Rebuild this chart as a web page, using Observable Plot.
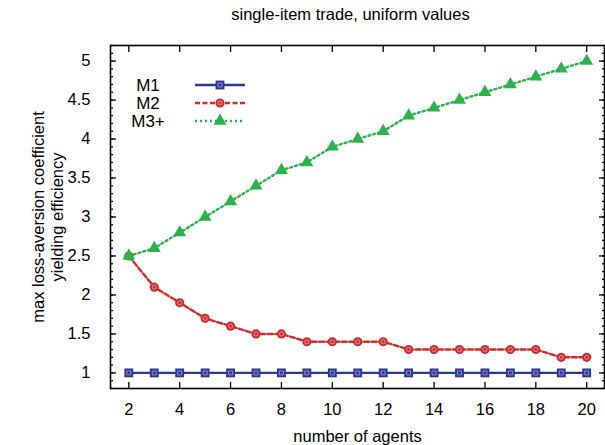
<!DOCTYPE html>
<html>
<head>
<meta charset="utf-8">
<script src="https://cdn.jsdelivr.net/npm/d3@7"></script>
<script src="https://cdn.jsdelivr.net/npm/@observablehq/plot@0.6"></script>
<style>
  html, body { margin: 0; padding: 0; background: #fff; }
  #chart svg { display: block; }
</style>
</head>
<body>
<div id="chart"></div>
<script>
const titleText = "single-item trade, uniform values";
const xLabel = "number of agents";
const yLabel = "max loss-aversion coefficient\nyielding efficiency";

const agents = [2,3,4,5,6,7,8,9,10,11,12,13,14,15,16,17,18,19,20];
const m1 = [1,1,1,1,1,1,1,1,1,1,1,1,1,1,1,1,1,1,1];
const m2 = [2.5,2.1,1.9,1.7,1.6,1.5,1.5,1.4,1.4,1.4,1.4,1.3,1.3,1.3,1.3,1.3,1.3,1.2,1.2];
const m3 = [2.5,2.6,2.8,3.0,3.2,3.4,3.6,3.7,3.9,4.0,4.1,4.3,4.4,4.5,4.6,4.7,4.8,4.9,5.0];

const seriesNames = ["M1", "M2", "M3+"];
const seriesValues = [m1, m2, m3];
const colors = ["#2a3b8f", "#cc2e2e", "#2cb24c"];
const dashes = [null, "5,2.5", "2,3"];
const symbols = ["square", "circle", "triangle"];
const symbolR = [5.0, 4.6, 4.8];
const innerMark = [true, true, false];

const xTicks = [2,4,6,8,10,12,14,16,18,20];
const yTicks = [1,1.5,2,2.5,3,3.5,4,4.5,5];
const yMinor = d3.range(8, 53).map(d => d / 10);

const data = [];
seriesNames.forEach((name, i) => {
  agents.forEach((a, j) => data.push({series: name, agents: a, value: seriesValues[i][j]}));
});

const font = "'Liberation Sans', Arial, Helvetica, sans-serif";
const fs = 16.5;
const legendFs = 17;

const marks = [];
seriesNames.forEach((name, i) => {
  const d = data.filter(r => r.series === name);
  marks.push(Plot.line(d, {x: "agents", y: "value", stroke: colors[i], strokeWidth: 2.4, strokeDasharray: dashes[i] || undefined}));
  marks.push(Plot.dot(d, {x: "agents", y: "value", symbol: () => symbols[i], fill: colors[i], r: symbolR[i], stroke: "none"}));
  if (innerMark[i]) {
    marks.push(Plot.dot(d, {x: "agents", y: "value", symbol: () => symbols[i], fill: "none", r: symbolR[i] * 0.45, stroke: "#ffffff", strokeOpacity: 0.55, strokeWidth: 0.8}));
  }
});

// legend
function legendMark(index, scales, values, dims) {
  const g = d3.create("svg:g").attr("font-family", font).attr("font-size", legendFs);
  const x0 = dims.marginLeft + 38, lx1 = dims.marginLeft + 85, lx2 = dims.marginLeft + 135;
  seriesNames.forEach((name, i) => {
    const y = dims.marginTop + 40 + i * 18;
    g.append("text").attr("x", x0).attr("y", y).attr("dy", "0.36em").attr("fill", "#000").text(name);
    g.append("line").attr("x1", lx1).attr("x2", lx2).attr("y1", y).attr("y2", y)
      .attr("stroke", colors[i]).attr("stroke-width", 2.4)
      .attr("stroke-dasharray", dashes[i]);
    const sym = {square: d3.symbolSquare, circle: d3.symbolCircle, triangle: d3.symbolTriangle}[symbols[i]];
    const area = Math.PI * symbolR[i] * symbolR[i];
    g.append("path").attr("transform", `translate(${(lx1 + lx2) / 2},${y})`)
      .attr("d", d3.symbol(sym, area)()).attr("fill", colors[i]);
    if (innerMark[i]) {
      g.append("path").attr("transform", `translate(${(lx1 + lx2) / 2},${y})`)
        .attr("d", d3.symbol(sym, area * 0.2)()).attr("fill", "none")
        .attr("stroke", "#fff").attr("stroke-opacity", 0.55).attr("stroke-width", 0.8);
    }
  });
  return g.node();
}

const chart = Plot.plot({
  width: 605,
  height: 445,
  marginLeft: 110,
  marginRight: 1,
  marginTop: 45,
  marginBottom: 57,
  style: {fontFamily: font, fontSize: fs + "px", background: "#fff", color: "#000"},
  x: {domain: [1.28, 20.7]},
  y: {domain: [0.8, 5.2]},
  marks: [
    // tick labels
    Plot.axisX({ticks: xTicks, tickSize: 0, tickPadding: 15, tickFormat: d => String(d), fontSize: fs, label: null}),
    Plot.axisY({ticks: yTicks, tickSize: 0, tickPadding: 20, tickFormat: d => String(d), fontSize: fs, label: null}),
    // inward major ticks
    Plot.axisX({ticks: xTicks, anchor: "bottom", tickSize: 6, dy: -6, text: null, label: null, strokeWidth: 1.3}),
    Plot.axisX({ticks: xTicks, anchor: "top", tickSize: 6, dy: 6, text: null, label: null, strokeWidth: 1.3}),
    Plot.axisY({ticks: yTicks, anchor: "left", tickSize: 6, dx: 6, text: null, label: null, strokeWidth: 1.3}),
    Plot.axisY({ticks: yTicks, anchor: "right", tickSize: 6, dx: -6, text: null, label: null, strokeWidth: 1.3}),
    // inward minor ticks
    Plot.axisY({ticks: yMinor, anchor: "left", tickSize: 3, dx: 3, text: null, label: null, strokeWidth: 1.3}),
    Plot.axisY({ticks: yMinor, anchor: "right", tickSize: 3, dx: -3, text: null, label: null, strokeWidth: 1.3}),
    ...marks,
    Plot.frame({stroke: "#000", strokeWidth: 1.6}),
    Plot.text([titleText], {frameAnchor: "top", dx: -7, dy: -31, lineAnchor: "middle", fontSize: fs, fill: "#000"}),
    Plot.text([xLabel], {frameAnchor: "bottom", dy: 48, lineAnchor: "middle", fontSize: fs, fill: "#000"}),
    Plot.text([yLabel], {frameAnchor: "left", dx: -63, rotate: -90, textAnchor: "middle", lineAnchor: "middle", lineHeight: 1.15, fontSize: fs, fill: "#000"}),
    legendMark
  ]
});

document.getElementById("chart").appendChild(chart);
</script>
</body>
</html>
